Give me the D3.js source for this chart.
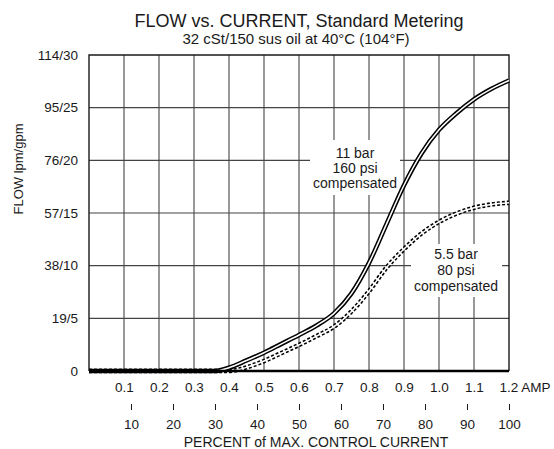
<!DOCTYPE html>
<html>
<head>
<meta charset="utf-8">
<script src="https://cdn.jsdelivr.net/npm/d3@7/dist/d3.min.js"></script>
<style>
  html, body { margin: 0; padding: 0; background: #fff; }
  svg { display: block; font-family: "Liberation Sans", Arial, Helvetica, sans-serif; }
</style>
</head>
<body>
<svg id="chart" width="554" height="449"></svg>
<script>
// ---- data ----
const ampTicks = [0.1, 0.2, 0.3, 0.4, 0.5, 0.6, 0.7, 0.8, 0.9, 1.0, 1.1];
const ampLabels = ["0.1", "0.2", "0.3", "0.4", "0.5", "0.6", "0.7", "0.8", "0.9", "1.0", "1.1"];
const percentTicks = [10, 20, 30, 40, 50, 60, 70, 80, 90, 100];
const flowTicks = [0, 19, 38, 57, 76, 95, 114];
const flowLabels = ["0", "19/5", "38/10", "57/15", "76/20", "95/25", "114/30"];

// 11 bar / 160 psi compensated (amp, lpm)
const amps160 = [0, 0.1, 0.2, 0.3, 0.36, 0.4, 0.45, 0.5, 0.55, 0.6, 0.65, 0.7, 0.75, 0.8, 0.85, 0.9, 0.95, 1.0, 1.05, 1.1, 1.15, 1.2];
const flow160 = [0, 0, 0, 0, 0, 1.2, 3.8, 6.6, 9.8, 13, 16.4, 20.8, 28, 39, 53, 67, 78.5, 87, 93, 98, 101.8, 104.8];
// 5.5 bar / 80 psi compensated
const amps80 = [0, 0.1, 0.2, 0.3, 0.4, 0.42, 0.45, 0.5, 0.55, 0.6, 0.65, 0.7, 0.75, 0.8, 0.85, 0.9, 0.95, 1.0, 1.05, 1.1, 1.15, 1.2];
const flow80 = [0, 0, 0, 0, 0, 0.3, 1.3, 3.6, 6.5, 9.4, 12.6, 16, 21.5, 28.8, 37.3, 44, 49.6, 53.8, 56.8, 58.9, 60.1, 60.7];

// ---- layout ----
const svg = d3.select("#chart");
const L = 89, R = 509, T = 55, B = 371;
const x = d3.scaleLinear().domain([0, 1.2]).range([L, R]);
const xp = d3.scaleLinear().domain([0, 100]).range([L, R]);
const y = d3.scaleLinear().domain([0, 114]).range([B, T]);
const ink = "#1a1a1a";

// titles
svg.append("text").attr("x", 299).attr("y", 27).attr("text-anchor", "middle")
  .attr("font-size", 18).attr("fill", ink).text("FLOW vs. CURRENT, Standard Metering");
svg.append("text").attr("x", 296).attr("y", 44).attr("text-anchor", "middle")
  .attr("font-size", 15).attr("fill", ink).text("32 cSt/150 sus oil at 40°C (104°F)");

// grid
const grid = svg.append("g");
grid.selectAll("line.h").data(flowTicks.slice(1, -1)).join("line")
  .attr("x1", L).attr("x2", R).attr("y1", d => y(d)).attr("y2", d => y(d))
  .attr("stroke", "#444").attr("stroke-width", 1.1);
grid.selectAll("line.v").data(ampTicks).join("line")
  .attr("x1", d => x(d)).attr("x2", d => x(d)).attr("y1", T).attr("y2", B)
  .attr("stroke", "#444").attr("stroke-width", 1.1);

// label backgrounds
svg.append("rect").attr("x", 310).attr("y", 140).attr("width", 90).attr("height", 55).attr("fill", "#fff");
svg.append("rect").attr("x", 411).attr("y", 244).attr("width", 91).attr("height", 53).attr("fill", "#fff");

// frame
svg.append("path").attr("d", `M${L},${B}V${T}H${R}V${B}`).attr("fill", "none")
  .attr("stroke", ink).attr("stroke-width", 1.4);

// y axis labels
const yAxis = d3.axisLeft(y).tickValues(flowTicks).tickSize(0).tickPadding(11)
  .tickFormat((d, i) => flowLabels[i]);
const gy = svg.append("g").attr("transform", `translate(${L},0)`).call(yAxis);
gy.select(".domain").remove();
gy.selectAll("text").attr("font-size", 13.5).attr("fill", ink).attr("font-family", null);

// y title
svg.append("text").attr("transform", "translate(23,169) rotate(-90)").attr("text-anchor", "middle")
  .attr("font-size", 13).attr("fill", ink).text("FLOW lpm/gpm");

// amp axis labels
const ampAxis = d3.axisBottom(x).tickValues(ampTicks).tickSize(0).tickPadding(11.5)
  .tickFormat((d, i) => ampLabels[i]);
const ga = svg.append("g").attr("transform", `translate(0,${B})`).call(ampAxis);
ga.select(".domain").remove();
ga.selectAll("text").attr("font-size", 13.5).attr("fill", ink).attr("font-family", null);
svg.append("text").attr("x", x(1.2) - 9.5).attr("y", 392).attr("font-size", 13.5).attr("fill", ink)
  .text("1.2 AMP");

// percent axis
const pAxis = d3.axisBottom(xp).tickValues(percentTicks).tickSize(6).tickPadding(9.5);
const gp = svg.append("g").attr("transform", "translate(0,404)").call(pAxis);
gp.select(".domain").remove();
gp.selectAll("line").attr("stroke", ink).attr("stroke-width", 1);
gp.selectAll("text").attr("font-size", 13.5).attr("fill", ink).attr("font-family", null);
svg.append("text").attr("x", 316).attr("y", 447).attr("text-anchor", "middle")
  .attr("font-size", 14).attr("fill", ink).text("PERCENT of MAX. CONTROL CURRENT");

// curves
const line = d3.line().x(d => x(d[0])).y(d => y(d[1])).curve(d3.curveMonotoneX);
const d80 = amps80.map((a, i) => [a, flow80[i]]);
const d160 = amps160.map((a, i) => [a, flow160[i]]);

svg.append("path").attr("d", line(d80)).attr("fill", "none").attr("stroke", "#000")
  .attr("stroke-width", 4.6).attr("stroke-dasharray", "3,2");
svg.append("path").attr("d", line(d80)).attr("fill", "none").attr("stroke", "#fff")
  .attr("stroke-width", 1.5);
svg.append("path").attr("d", line(d160)).attr("fill", "none").attr("stroke", "#000")
  .attr("stroke-width", 4.6);
svg.append("path").attr("d", line(d160)).attr("fill", "none").attr("stroke", "#fff")
  .attr("stroke-width", 1.5);

// bottom baseline
svg.append("line").attr("x1", L).attr("x2", R).attr("y1", B).attr("y2", B)
  .attr("stroke", "#000").attr("stroke-width", 2.6);
svg.append("line").attr("x1", L).attr("x2", x(0.37)).attr("y1", B - 1.5).attr("y2", B - 1.5)
  .attr("stroke", "#000").attr("stroke-width", 1.4).attr("stroke-dasharray", "3,2");

// curve labels
const lab1 = ["11 bar", "160 psi", "compensated"];
svg.selectAll("text.l1").data(lab1).join("text").attr("x", 355).attr("y", (d, i) => 157.5 + i * 15.3)
  .attr("text-anchor", "middle").attr("font-size", 14).attr("fill", ink).text(d => d);
const lab2 = ["5.5 bar", "80 psi", "compensated"];
svg.selectAll("text.l2").data(lab2).join("text").attr("x", 456).attr("y", (d, i) => 259 + i * 16)
  .attr("text-anchor", "middle").attr("font-size", 14).attr("fill", ink).text(d => d);
</script>
</body>
</html>
